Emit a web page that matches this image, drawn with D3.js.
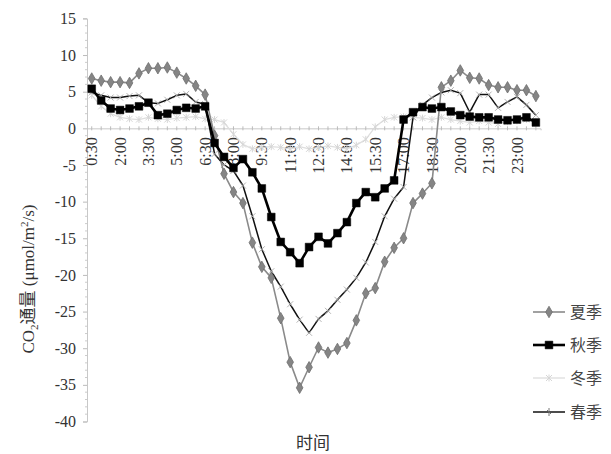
<!DOCTYPE html>
<html><head><meta charset="utf-8">
<script src="https://cdn.jsdelivr.net/npm/d3@7"></script>
<style>body{margin:0;background:#fff;} svg{display:block;}</style>
</head><body><svg id="c" width="611" height="454"></svg>
<script>
const categories = ["0:30","1:00","1:30","2:00","2:30","3:00","3:30","4:00","4:30","5:00","5:30","6:00","6:30","7:00","7:30","8:00","8:30","9:00","9:30","10:00","10:30","11:00","11:30","12:00","12:30","13:00","13:30","14:00","14:30","15:00","15:30","16:00","16:30","17:00","17:30","18:00","18:30","19:00","19:30","20:00","20:30","21:00","21:30","22:00","22:30","23:00","23:30","24:00"];
const tickLabels = ["0:30","2:00","3:30","5:00","6:30","8:00","9:30","11:00","12:30","14:00","15:30","17:00","18:30","20:00","21:30","23:00"];
const yTicks = [15,10,5,0,-5,-10,-15,-20,-25,-30,-35,-40];
const summer = [6.8,6.5,6.3,6.3,6.2,7.5,8.2,8.2,8.3,7.6,6.8,5.8,4.6,-1.0,-6.2,-8.7,-10.2,-15.6,-18.9,-20.4,-25.9,-31.9,-35.4,-32.6,-29.9,-30.6,-30.1,-29.3,-26.2,-22.5,-21.8,-18.2,-16.3,-15.0,-10.2,-8.9,-7.5,5.6,6.5,7.9,6.9,6.8,5.9,5.6,5.6,5.2,5.2,4.4];
const autumn = [5.4,3.8,2.7,2.5,2.7,3.0,3.5,1.8,2.0,2.5,2.8,2.7,3.0,-2.0,-3.9,-5.4,-4.2,-6.0,-8.2,-12.1,-15.5,-16.9,-18.4,-16.2,-14.8,-15.7,-14.3,-12.8,-10.2,-8.7,-9.4,-8.2,-7.1,1.2,2.2,2.9,2.7,2.9,2.3,1.8,1.6,1.5,1.5,1.2,1.1,1.2,1.5,0.8];
const winter = [4.5,3.0,2.0,1.5,1.3,1.2,1.5,1.3,1.2,1.4,1.5,1.6,1.3,1.2,0.8,-0.8,-2.2,-2.8,-2.6,-2.5,-2.6,-2.8,-2.5,-2.8,-2.6,-2.4,-2.6,-2.8,-2.3,-1.5,0.2,1.2,1.5,1.6,1.5,1.4,1.2,1.5,1.2,1.0,0.8,1.0,0.8,0.6,0.9,1.0,1.2,1.0];
const spring = [4.9,4.5,4.2,4.2,4.4,4.5,3.5,3.4,3.9,4.5,4.7,3.6,3.3,-3.5,-5.0,-5.8,-7.8,-12.0,-16.5,-19.5,-21.6,-24.0,-26.1,-27.9,-26.0,-24.9,-23.4,-22.0,-20.4,-18.3,-15.5,-12.0,-9.6,-8.0,1.5,3.2,4.2,4.9,5.2,4.8,2.2,4.6,4.6,2.8,3.6,4.3,3.2,1.8];
const seriesNames = ["夏季","秋季","冬季","春季"];

const svg = d3.select("#c");
const serif = "'Liberation Serif','Times New Roman','Noto Sans CJK SC',serif";
const cjk = "'Liberation Serif','Noto Sans CJK SC',serif";

const x = d3.scaleBand().domain(categories).range([87, 87 + 48 * 9.45]).padding(0);
const cx = c => x(c) + x.bandwidth() / 2;
const y = d3.scaleLinear().domain([-40, 15]).range([421.5, 18.4]);

// Y axis
const ya = svg.append("g").attr("transform", "translate(87,0)")
  .call(d3.axisLeft(y).tickValues(yTicks).tickSize(4).tickPadding(7).tickFormat(d => d));
ya.select(".domain").attr("stroke", "#c8c8c8");
ya.selectAll(".tick line").attr("stroke", "#bbb");
ya.selectAll("text").attr("font-family", serif).attr("font-size", 16).attr("fill", "#333");
// minor ticks
const minor = d3.range(-40, 15.01, 1).filter(v => v % 5 !== 0);
ya.selectAll(".minor").data(minor).join("line").attr("class","minor")
  .attr("x1", -2).attr("x2", 0).attr("y1", d => y(d)).attr("y2", d => y(d)).attr("stroke", "#ccc");

// X axis at zero
const xa = svg.append("g").attr("transform", `translate(0,${y(0)})`)
  .call(d3.axisBottom(x).tickSize(2).tickFormat(() => ""));
xa.select(".domain").attr("stroke", "#c8c8c8");
xa.selectAll(".tick line").attr("y1", -2).attr("y2", 2).attr("stroke", "#bbb");
svg.append("g").selectAll("text").data(tickLabels).join("text")
  .attr("transform", d => `translate(${cx(d)},${y(0) + 9}) rotate(-90)`)
  .attr("text-anchor", "end").attr("dy", "0.35em")
  .attr("font-family", serif).attr("font-size", 16).attr("fill", "#333")
  .text(d => d);

const line = d3.line().x((d, i) => cx(categories[i])).y(d => y(d));

function drawSeries(vals, style) {
  const g = svg.append("g");
  g.append("path").datum(vals).attr("d", line).attr("fill", "none")
    .attr("stroke", style.stroke).attr("stroke-width", style.width).attr("stroke-linejoin", "round");
  g.selectAll("path.m").data(vals).join("path").attr("class", "m")
    .attr("transform", (d, i) => `translate(${cx(categories[i])},${y(d)})`)
    .attr("d", style.marker)
    .attr("fill", style.mfill).attr("stroke", style.mstroke).attr("stroke-width", style.mw);
}
const styles = [
  {stroke: "#8a8a8a", width: 1.6, marker: d3.symbol(d3.symbolDiamond, 38)(), mfill: "#858585", mstroke: "#6f6f6f", mw: 0.8},
  {stroke: "#000", width: 2.6, marker: d3.symbol(d3.symbolSquare, 60)(), mfill: "#000", mstroke: "#000", mw: 0.5},
  {stroke: "#dedede", width: 1.3, marker: "M-3,-3L3,3M-3,3L3,-3M0,-3.5L0,3.5", mfill: "none", mstroke: "#d6d6d6", mw: 1},
  {stroke: "#111", width: 1.5, marker: "M-3,-3L3,3M-3,3L3,-3", mfill: "none", mstroke: "#aaa", mw: 0.9}
];
drawSeries(winter, styles[2]);
drawSeries(spring, styles[3]);
drawSeries(summer, styles[0]);
drawSeries(autumn, styles[1]);

// Legend
const legY = [312, 345, 378, 412];
const lg = svg.append("g");
seriesNames.forEach((n, k) => {
  const st = styles[k];
  lg.append("line").attr("x1", 533).attr("x2", 565).attr("y1", legY[k]).attr("y2", legY[k])
    .attr("stroke", st.stroke).attr("stroke-width", st.width);
  lg.append("path").attr("transform", `translate(549,${legY[k]})`).attr("d", k === 3 ? "M0,-4L0,4M-2,-2L2,2" : st.marker)
    .attr("fill", st.mfill).attr("stroke", k === 3 ? "#666" : st.mstroke).attr("stroke-width", st.mw);
  lg.append("text").attr("x", 570).attr("y", legY[k]).attr("dy", "0.36em")
    .attr("font-family", cjk).attr("font-size", 16).attr("fill", "#444").text(n);
});

// Axis titles
const yt = svg.append("text").attr("transform", "translate(34,279) rotate(-90)")
  .attr("text-anchor", "middle").attr("font-family", cjk).attr("font-size", 17).attr("fill", "#333");
yt.append("tspan").text("CO");
yt.append("tspan").attr("font-size", 11).attr("dy", 4).text("2");
yt.append("tspan").attr("dy", -4).text("通量 (μmol/m");
yt.append("tspan").attr("font-size", 11).attr("dy", -6).text("2");
yt.append("tspan").attr("dy", 6).text("/s)");

svg.append("text").attr("x", 313).attr("y", 449).attr("text-anchor", "middle")
  .attr("font-family", cjk).attr("font-size", 17).attr("fill", "#333").text("时间");
</script></body></html>
